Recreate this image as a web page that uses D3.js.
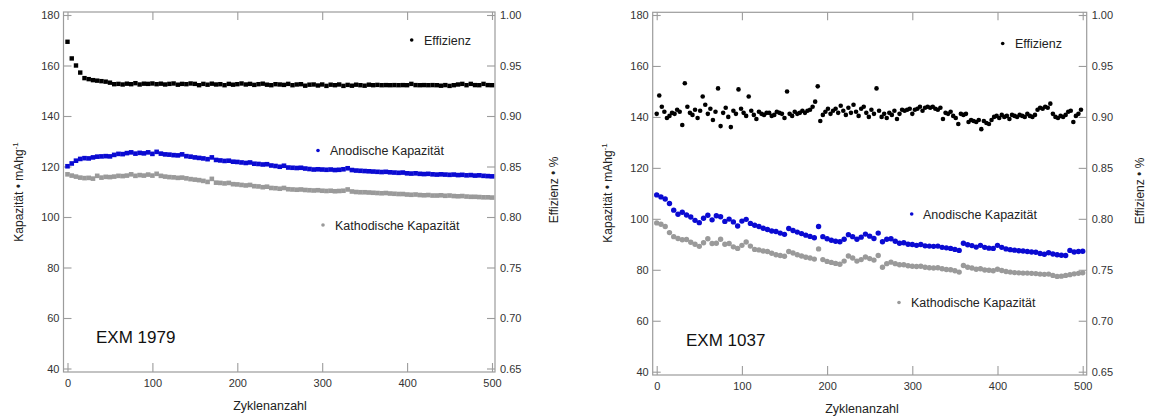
<!DOCTYPE html>
<html>
<head>
<meta charset="utf-8">
<script src="https://cdn.jsdelivr.net/npm/d3@7"></script>
<style>
  html, body { margin: 0; padding: 0; background: #fff; }
  svg { display: block; font-family: "Liberation Sans", Arial, sans-serif; }
</style>
</head>
<body>
<svg id="chart" width="1150" height="416"></svg>
<script>
// ---------------- DATA ----------------
const xTicks = [0, 100, 200, 300, 400, 500];
const capTicks = [40, 60, 80, 100, 120, 140, 160, 180];
const effTicks = [0.65, 0.70, 0.75, 0.80, 0.85, 0.90, 0.95, 1.00];
const seriesNames = ["Effizienz", "Anodische Kapazität", "Kathodische Kapazität"];
const cellNames = ["EXM 1979", "EXM 1037"];

// Panel 1 (EXM 1979): one value every 5 cycles, cycles 0..500
const p1Step = 5;
const p1Eff = [
  0.9735, 0.957, 0.950, 0.943, 0.9375, 0.9365, 0.9355, 0.9350, 0.9345, 0.9340,
  0.9330, 0.9315, 0.9318, 0.9312, 0.9320, 0.9315, 0.9325, 0.9312, 0.9320, 0.9318,
  0.9322, 0.9315, 0.9320, 0.9312, 0.9318, 0.9322, 0.9310, 0.9318, 0.9315, 0.9322,
  0.9318, 0.9305, 0.9318, 0.9310, 0.9320, 0.9312, 0.9315, 0.9305, 0.9318, 0.9310,
  0.9315, 0.9322, 0.9312, 0.9318, 0.9308, 0.9315, 0.9320, 0.9310, 0.9305, 0.9315,
  0.9312, 0.9308, 0.9318, 0.9305, 0.9312, 0.9315, 0.9300, 0.9310, 0.9312, 0.9302,
  0.9312, 0.9298, 0.9310, 0.9305, 0.9312, 0.9298, 0.9308, 0.9300, 0.9310, 0.9305,
  0.9300, 0.9310, 0.9305, 0.9308, 0.9305, 0.9306, 0.9305, 0.9306, 0.9305, 0.9306,
  0.9305, 0.9318, 0.9306, 0.9305, 0.9306, 0.9305, 0.9306, 0.9305, 0.9300, 0.9306,
  0.9298, 0.9305, 0.9312, 0.9318, 0.9305, 0.9318, 0.9306, 0.9305, 0.9318, 0.9306,
  0.9305
];
const p1Anod = [
  120.1, 121.2, 122.3, 123.0, 123.3, 123.2, 123.6, 123.9, 124.0, 124.1,
  124.0, 124.6, 125.0, 124.9, 125.3, 125.6, 125.1, 125.4, 125.2, 125.6,
  125.0, 125.8, 125.1, 124.8, 124.7, 124.5, 124.4, 124.8, 124.1, 123.9,
  123.6, 123.4, 123.2, 122.9, 123.6, 122.6, 122.4, 122.2, 122.3, 121.9,
  121.8, 121.6, 121.4, 121.6, 121.1, 121.0, 120.8, 120.9, 120.4, 120.2,
  119.9, 120.3, 119.6, 119.5, 119.4, 119.5, 119.2, 119.0, 118.8, 118.9,
  118.8, 118.7, 118.8, 118.6, 118.7, 118.9, 119.3, 118.6, 118.4, 118.3,
  118.2, 118.1, 118.0, 117.9, 117.8, 117.9, 117.7, 117.6, 117.5, 117.6,
  117.3, 117.2, 117.3, 117.1, 117.0, 117.1, 116.9, 116.8, 116.9, 116.8,
  116.7, 116.8, 116.6, 116.7, 116.5, 116.6, 116.4, 116.5, 116.3, 116.2,
  116.1
];
const p1Kath = [
  116.9, 116.4, 116.0, 115.6, 115.4, 115.5, 115.2, 116.3, 115.6, 115.9,
  115.8, 116.0, 116.3, 116.2, 116.4, 116.9, 116.3, 116.6, 116.4, 116.8,
  116.4, 117.1, 116.3, 116.0, 115.8, 115.7, 115.5, 115.6, 115.3, 115.0,
  114.8, 114.6, 114.3, 113.9, 115.1, 113.6, 113.5, 113.3, 113.5, 113.0,
  112.9, 112.7, 112.5, 112.7, 112.2, 112.1, 111.8, 112.0, 111.5, 111.4,
  111.2, 111.5, 111.0, 110.9, 110.8, 110.9, 110.7, 110.6, 110.5, 110.6,
  110.4, 110.3, 110.4, 110.2, 110.3, 110.4, 110.9, 110.1, 109.9, 109.8,
  109.8, 109.7, 109.6, 109.5, 109.4, 109.5, 109.3, 109.2, 109.1, 109.1,
  108.9, 108.8, 108.9, 108.7, 108.6, 108.7, 108.5, 108.5, 108.6, 108.4,
  108.5, 108.3, 108.2, 108.3, 108.1, 108.0, 108.0, 107.9, 107.8, 107.8,
  107.7
];

// Panel 2 (EXM 1037): efficiency every 3 cycles (0..498), capacities every 5 cycles (0..500)
const p2EffStep = 3;
const p2Eff = [
  0.903, 0.921, 0.910, 0.905, 0.899, 0.901, 0.904, 0.903, 0.907, 0.905,
  0.892, 0.933, 0.910, 0.904, 0.902, 0.907, 0.899, 0.906, 0.920, 0.912,
  0.903, 0.908, 0.897, 0.905, 0.928, 0.891, 0.904, 0.909, 0.900, 0.890,
  0.906, 0.903, 0.927, 0.908, 0.904, 0.901, 0.920, 0.906, 0.902, 0.898,
  0.905, 0.903, 0.902, 0.904, 0.904, 0.901, 0.902, 0.905, 0.904, 0.903,
  0.899, 0.925, 0.903, 0.901, 0.905, 0.903, 0.904, 0.906, 0.904, 0.906,
  0.907, 0.910, 0.915, 0.930, 0.896, 0.902, 0.905, 0.908, 0.903, 0.906,
  0.908, 0.904, 0.911, 0.906, 0.902, 0.909, 0.904, 0.912, 0.905, 0.901,
  0.908, 0.910, 0.904, 0.900, 0.907, 0.903, 0.928, 0.906, 0.900, 0.903,
  0.899, 0.904, 0.902, 0.906, 0.898, 0.903, 0.907, 0.906, 0.907, 0.908,
  0.903, 0.907, 0.908, 0.910, 0.906, 0.909, 0.910, 0.909, 0.910, 0.908,
  0.907, 0.909, 0.898, 0.904, 0.903, 0.905, 0.901, 0.899, 0.893, 0.903,
  0.902, 0.903, 0.895, 0.897, 0.896, 0.895, 0.897, 0.888, 0.896, 0.894,
  0.893, 0.897, 0.900, 0.901, 0.899, 0.902, 0.900, 0.901, 0.898, 0.902,
  0.901, 0.900, 0.902, 0.901, 0.900, 0.903, 0.901, 0.900, 0.902, 0.907,
  0.909, 0.908, 0.910, 0.909, 0.913, 0.903, 0.900, 0.899, 0.901, 0.900,
  0.902, 0.905, 0.906, 0.895, 0.901, 0.903, 0.907
];
const p2Step = 5;
const p2Anod = [
  109.4, 108.6, 107.8, 106.0, 103.4, 101.8, 102.6, 101.5, 100.7, 99.4,
  98.5, 100.2, 101.4, 99.6, 101.2, 100.8, 99.0, 99.9, 98.8, 97.2,
  99.1, 99.8, 98.2, 97.5, 97.0, 96.3, 95.8, 95.2, 95.0, 94.4,
  93.9, 96.2, 95.4, 94.8, 94.2, 93.6, 93.1, 92.6, 97.0, 93.0,
  92.2, 91.6, 91.2, 91.0, 92.0, 93.8, 93.0, 92.0, 92.8, 94.0,
  93.2, 92.3, 94.4, 91.0, 92.0, 92.2, 91.2, 90.4, 90.6, 90.0,
  89.9, 89.6, 89.9, 89.4, 89.3, 89.2, 89.3, 88.8, 88.6, 88.4,
  88.0, 87.6, 90.4, 89.8, 89.5, 88.9, 89.6, 88.8, 88.5, 88.4,
  89.6, 88.8, 88.2, 87.9, 87.7, 87.5, 87.4, 87.2, 87.0, 86.9,
  86.4, 86.1, 86.7, 86.2, 85.9, 85.7, 85.6, 87.6, 87.0, 87.2,
  87.3
];
const p2Kath = [
  98.4, 97.9, 97.0, 94.6, 93.0, 92.3, 91.8, 91.9, 90.8, 90.0,
  89.2, 90.6, 92.2, 90.3, 90.4, 92.0, 90.0, 90.3, 89.0, 88.4,
  89.6, 90.9, 89.3, 88.0, 87.8, 87.4, 87.2, 86.5, 85.9, 85.6,
  85.3, 87.2, 86.6, 85.9, 85.4, 84.9, 84.6, 84.2, 88.2, 84.0,
  83.3, 82.9, 82.5, 82.2, 83.4, 85.4, 84.6, 83.4, 84.0, 85.0,
  84.4, 83.8, 85.6, 81.0, 82.4, 83.0, 82.4, 82.0, 82.0, 81.6,
  81.4, 81.3, 81.4, 81.0, 80.8, 80.7, 80.8, 80.4, 80.1, 80.0,
  79.6, 79.1, 81.7, 81.0, 80.7, 80.2, 80.4, 79.9, 79.8, 79.6,
  80.2, 79.7, 79.3, 79.1, 78.9, 78.8, 78.7, 78.7, 78.6, 78.5,
  78.3, 78.2, 78.3, 77.8, 77.4, 77.5, 77.8, 78.1, 78.4, 78.6,
  78.8
];

// ---------------- LAYOUT ----------------
const colors = { eff: "#000000", anod: "#0a0ad2", kath: "#9a9a9a" };
const svg = d3.select("#chart");

const panels = [
  {
    name: cellNames[0],
    frame: { l: 63.5, r: 495, t: 12, b: 372 },
    xr: [67.5, 492], yr: [368.5, 15],
    eff: p1Eff, effStep: p1Step, anod: p1Anod, kath: p1Kath, capStep: p1Step,
    leftTitle: { x: 23, y: 192 }, rightTitle: { x: 558, y: 190 }, xTitle: { x: 270, y: 410 },
    nameLabel: { x: 96, y: 343 },
    legend: [ { dx: 411.7, dy: 40, tx: 424, ty: 44.5 },
              { dx: 318, dy: 150.5, tx: 330, ty: 155 },
              { dx: 323, dy: 225, tx: 335, ty: 229.5 } ],
    square: true, size: 4.6, effSize: 4.4
  },
  {
    name: cellNames[1],
    frame: { l: 652.7, r: 1086.7, t: 12.3, b: 375 },
    xr: [656.7, 1082.7], yr: [371.7, 15],
    eff: p2Eff, effStep: p2EffStep, anod: p2Anod, kath: p2Kath, capStep: p2Step,
    leftTitle: { x: 612, y: 193 }, rightTitle: { x: 1144, y: 191 }, xTitle: { x: 862, y: 412.5 },
    nameLabel: { x: 686, y: 345.5 },
    legend: [ { dx: 1002.7, dy: 43.5, tx: 1015, ty: 48 },
              { dx: 911.7, dy: 214, tx: 923, ty: 218.5 },
              { dx: 899, dy: 302.5, tx: 911, ty: 307 } ],
    square: false, size: 5.4, effSize: 4.6
  }
];

const axisColor = "#9c9c9c";
const labelColor = "#333";

panels.forEach(p => {
  const g = svg.append("g");
  const x = d3.scaleLinear().domain([0, 500]).range(p.xr);
  const yL = d3.scaleLinear().domain([40, 180]).range(p.yr);
  const yR = d3.scaleLinear().domain([0.65, 1.00]).range(p.yr);
  const f = p.frame;

  // frame
  g.append("rect")
    .attr("x", f.l).attr("y", f.t)
    .attr("width", f.r - f.l).attr("height", f.b - f.t)
    .attr("fill", "none").attr("stroke", axisColor).attr("stroke-width", 1.2);

  const styleAxis = sel => {
    sel.select(".domain").remove();
    sel.selectAll(".tick line").attr("stroke", axisColor).attr("stroke-width", 1.1);
    sel.selectAll(".tick text").attr("fill", labelColor)
      .style("font-size", "11px").style("font-family", "'Liberation Sans', Arial, sans-serif");
  };

  g.append("g").attr("transform", `translate(${f.l},0)`)
    .call(d3.axisLeft(yL).tickValues(capTicks).tickSize(-8).tickPadding(4).tickFormat(d3.format("d")))
    .call(styleAxis);
  g.append("g").attr("transform", `translate(${f.r},0)`)
    .call(d3.axisRight(yR).tickValues(effTicks).tickSize(-8).tickPadding(5).tickFormat(d3.format(".2f")))
    .call(styleAxis);
  g.append("g").attr("transform", `translate(0,${f.b})`)
    .call(d3.axisBottom(x).tickValues(xTicks).tickSize(-9).tickPadding(7).tickFormat(d3.format("d")))
    .call(styleAxis);
  g.append("g").attr("transform", `translate(0,${f.t})`)
    .call(d3.axisTop(x).tickValues(xTicks).tickSize(-8).tickFormat(""))
    .call(styleAxis);

  // data markers
  const drawMarks = (vals, step, yScale, color, size) => {
    const layer = g.append("g");
    if (p.square) {
      layer.selectAll("rect").data(vals).join("rect")
        .attr("x", (d, i) => x(i * step) - size / 2)
        .attr("y", d => yScale(d) - size / 2)
        .attr("width", size).attr("height", size).attr("fill", color);
    } else {
      layer.selectAll("circle").data(vals).join("circle")
        .attr("cx", (d, i) => x(i * step))
        .attr("cy", d => yScale(d))
        .attr("r", size / 2).attr("fill", color);
    }
  };
  drawMarks(p.kath, p.capStep, yL, colors.kath, p.size);
  drawMarks(p.anod, p.capStep, yL, colors.anod, p.size);
  drawMarks(p.eff, p.effStep, yR, colors.eff, p.effSize);

  // legends
  const lc = [colors.eff, colors.anod, colors.kath];
  p.legend.forEach((L, i) => {
    g.append("circle").attr("cx", L.dx).attr("cy", L.dy).attr("r", 1.8).attr("fill", lc[i]);
    g.append("text").attr("x", L.tx).attr("y", L.ty).text(seriesNames[i])
      .attr("fill", "#222").style("font-size", "12.5px");
  });

  // cell name
  g.append("text").attr("x", p.nameLabel.x).attr("y", p.nameLabel.y)
    .text(p.name).attr("fill", "#111").style("font-size", "17px");

  // axis titles
  const lt = g.append("text")
    .attr("transform", `translate(${p.leftTitle.x},${p.leftTitle.y}) rotate(-90)`)
    .attr("text-anchor", "middle").attr("fill", "#222").style("font-size", "12px");
  lt.append("tspan").text("Kapazität • mAhg");
  lt.append("tspan").text("-1").attr("dy", -5).style("font-size", "8px");

  g.append("text")
    .attr("transform", `translate(${p.rightTitle.x},${p.rightTitle.y}) rotate(-90)`)
    .attr("text-anchor", "middle").attr("fill", "#222").style("font-size", "12px")
    .text("Effizienz • %");

  g.append("text").attr("x", p.xTitle.x).attr("y", p.xTitle.y)
    .attr("text-anchor", "middle").attr("fill", "#222").style("font-size", "12.5px")
    .text("Zyklenanzahl");
});
</script>
</body>
</html>
